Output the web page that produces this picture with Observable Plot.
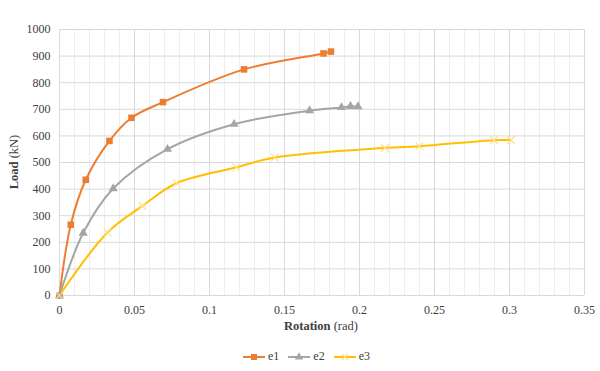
<!DOCTYPE html>
<html><head><meta charset="utf-8">
<script src="https://cdn.jsdelivr.net/npm/d3@7"></script>
<script src="https://cdn.jsdelivr.net/npm/@observablehq/plot@0.6"></script>
<style>
body{margin:0;background:#fff;font-family:"Liberation Serif","Times New Roman",serif;}
#wrap{position:relative;width:600px;height:371px;}
#legend{position:absolute;left:243px;top:349px;display:flex;align-items:center;font-size:12px;color:#404040;}
#legend .item{display:flex;align-items:center;margin-right:9px;}
#legend svg{margin-right:3px;}
</style></head><body>
<div id="wrap"><div id="chart"></div><div id="legend"></div></div>
<script>
// Data
const seriesNames = ["e1", "e2", "e3"];
const seriesColors = ["#ED7D31", "#A5A5A5", "#FFC000"];
const e1X = [0, 0.0075, 0.0175, 0.0333, 0.048, 0.069, 0.123, 0.176, 0.181];
const e1Y = [0, 266, 435, 581, 668, 727, 850, 910, 917];
const e2X = [0, 0.0158, 0.0358, 0.072, 0.1164, 0.1667, 0.188, 0.194, 0.199];
const e2Y = [0, 235, 402, 550, 644, 695, 707, 711, 710];
const e3X = [0, 0.032, 0.0553, 0.078, 0.118, 0.1435, 0.217, 0.240, 0.2897, 0.301];
const e3Y = [0, 237, 337, 422, 482, 519, 555, 561, 584, 584];
const xTicks = [0, 0.05, 0.1, 0.15, 0.2, 0.25, 0.3, 0.35];
const xTickLabels = ["0", "0.05", "0.1", "0.15", "0.2", "0.25", "0.3", "0.35"];
const xMinor = [0.01,0.02,0.03,0.04,0.06,0.07,0.08,0.09,0.11,0.12,0.13,0.14,0.16,0.17,0.18,0.19,0.21,0.22,0.23,0.24,0.26,0.27,0.28,0.29,0.31,0.32,0.33,0.34];
const yTicks = [0, 100, 200, 300, 400, 500, 600, 700, 800, 900, 1000];

const mk = (name, xs, ys) => xs.map((x, i) => ({series: name, x, y: ys[i]}));
const d1 = mk("e1", e1X, e1Y), d2 = mk("e2", e2X, e2Y), d3s = mk("e3", e3X, e3Y);
const all = [...d1, ...d2, ...d3s];

const plot = Plot.plot({
  width: 600, height: 340,
  marginLeft: 59, marginRight: 16, marginTop: 29, marginBottom: 45,
  style: {fontFamily: "'Liberation Serif', 'Times New Roman', serif", fontSize: "12px", color: "#404040", background: "#fff"},
  x: {domain: [0, 0.35]},
  y: {domain: [0, 1000]},
  color: {domain: seriesNames, range: seriesColors},
  marks: [
    Plot.ruleX(xMinor, {stroke: "#eeeeee", strokeWidth: 1}),
    Plot.ruleX(xTicks, {stroke: "#d9d9d9", strokeWidth: 1}),
    Plot.ruleY(yTicks, {stroke: "#d9d9d9", strokeWidth: 1}),
    Plot.axisX({ticks: xTicks, tickSize: 0, tickPadding: 10, tickFormat: (d, i) => xTickLabels[xTicks.indexOf(d)], label: null}),
    Plot.axisY({ticks: yTicks, tickSize: 0, tickPadding: 9, tickFormat: d => String(d), label: null}),
    Plot.line(all, {x: "x", y: "y", z: "series", stroke: "series", strokeWidth: 2, curve: "catmull-rom"}),
    Plot.dot(d1, {x: "x", y: "y", symbol: "square", r: 3.7, fill: seriesColors[0], stroke: "none"}),
    Plot.dot(d2, {x: "x", y: "y", symbol: "triangle", r: 3.4, fill: seriesColors[1], stroke: "none"}),
    Plot.dot(d3s, {x: "x", y: "y", symbol: "times", r: 3.6, stroke: "#FFE08A", strokeWidth: 1.2})
  ]
});
document.getElementById("chart").appendChild(plot);

const svg = d3.select(plot);
const xt = svg.append("text").attr("x", 321).attr("y", 329.5).attr("text-anchor", "middle")
  .attr("fill", "#404040").style("font-size", "12.5px");
xt.append("tspan").attr("font-weight", "bold").text("Rotation");
xt.append("tspan").text(" (rad)");
const yt = svg.append("text").attr("transform", "translate(18,162) rotate(-90)").attr("text-anchor", "middle")
  .attr("fill", "#404040").style("font-size", "12.5px");
yt.append("tspan").attr("font-weight", "bold").text("Load");
yt.append("tspan").text(" (kN)");

// Legend
const legend = d3.select("#legend");
const syms = ["square", "triangle", "times"];
seriesNames.forEach((name, i) => {
  const item = legend.append("div").attr("class", "item");
  const s = item.append("svg").attr("width", 22).attr("height", 10);
  s.append("line").attr("x1", 0).attr("x2", 22).attr("y1", 5).attr("y2", 5).attr("stroke", seriesColors[i]).attr("stroke-width", 2);
  if (i === 0) s.append("rect").attr("x", 8).attr("y", 2).attr("width", 6).attr("height", 6).attr("fill", seriesColors[0]);
  if (i === 1) s.append("path").attr("d", d3.symbol(d3.symbolTriangle, 30)()).attr("transform", "translate(11,5)").attr("fill", seriesColors[1]);
  if (i === 2) s.append("path").attr("d", d3.symbol(d3.symbolTimes, 30)()).attr("transform", "translate(11,5)").attr("stroke", "#FFE08A").attr("stroke-width", 1.2).attr("fill", "none");
  item.append("span").text(name);
});
</script>
</body></html>
